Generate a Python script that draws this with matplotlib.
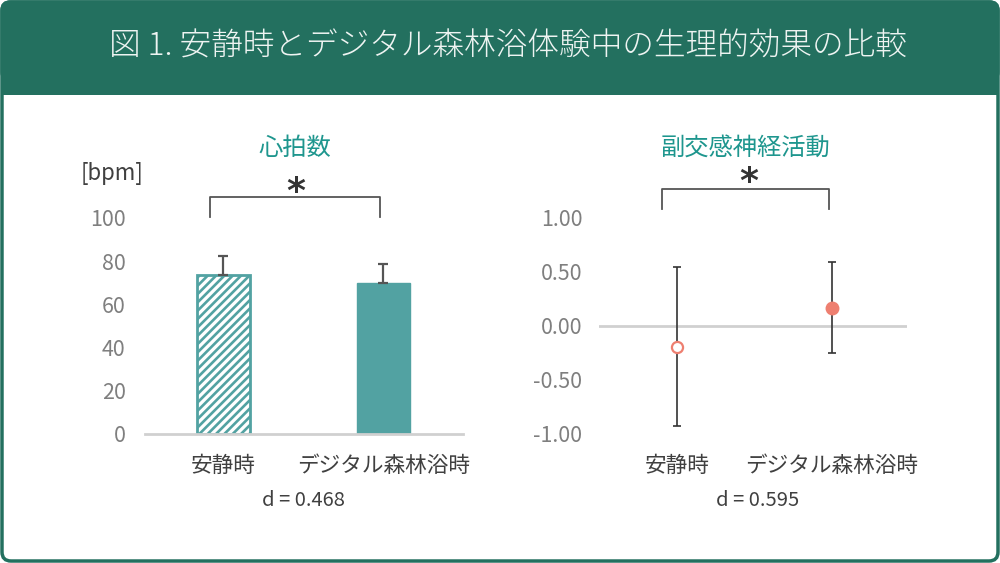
import matplotlib
matplotlib.use('Agg')
import matplotlib.pyplot as plt
from matplotlib.patches import FancyBboxPatch, Rectangle

plt.rcParams['font.family'] = ['Noto Sans CJK JP', 'DejaVu Sans']
plt.rcParams['axes.unicode_minus'] = False
plt.rcParams['hatch.linewidth'] = 1.9

# data
groups = ['安静時', 'デジタル森林浴時']
hr_mean = [73.6, 69.8]
hr_sd = [8.8, 8.8]
hr_ticks = [0, 20, 40, 60, 80, 100]
pns_mean = [-0.19, 0.17]
pns_sd = [0.74, 0.42]
pns_ticks = [-1.0, -0.5, 0.0, 0.5, 1.0]
d_hr = 0.468
d_pns = 0.595

GREEN = '#23705f'
TEAL = '#52a2a2'
TITLE_TEAL = '#1e968e'
SALMON = '#ee7f70'
GRAY_TXT = '#7f7f7f'
DARK = '#404040'

fig = plt.figure(figsize=(10, 5.63), dpi=100)

# background frame + header band, in pixel units
bg = fig.add_axes([0, 0, 1, 1])
bg.set_xlim(0, 1000)
bg.set_ylim(563, 0)
bg.axis('off')
bg.add_patch(FancyBboxPatch((2, 2), 996, 559, boxstyle='round,pad=0,rounding_size=9',
                            facecolor='white', edgecolor=GREEN, linewidth=2.5))
bg.add_patch(FancyBboxPatch((1, 1), 998, 80, boxstyle='round,pad=0,rounding_size=9',
                            facecolor=GREEN, edgecolor=GREEN, linewidth=1))
bg.add_patch(Rectangle((1, 40), 998, 55, facecolor=GREEN, edgecolor='none'))
bg.text(508, 47, '図 1. 安静時とデジタル森林浴体験中の生理的効果の比較', color='#eef4f2',
        fontsize=22.8, ha='center', va='center', fontweight='light')

# ---------------- heart rate ----------------
ax1 = fig.add_axes([0.145, 1 - 434 / 563, 0.318, 216 / 563])
x = [0, 1]
ax1.bar(x[0], hr_mean[0], width=0.33, color='white', edgecolor=TEAL, hatch='////', linewidth=2)
ax1.bar(x[1], hr_mean[1], width=0.33, color=TEAL, edgecolor=TEAL, linewidth=1)
ax1.errorbar(x, hr_mean, yerr=[[0, 0], hr_sd], fmt='none', ecolor='#555555',
             elinewidth=1.6, capsize=3.5, capthick=1.6)
ax1.set_xlim(-0.49, 1.497)
ax1.set_ylim(0, 100)
ax1.set_yticks(hr_ticks)
ax1.set_yticklabels([str(t) for t in hr_ticks], color=GRAY_TXT, fontsize=15.4)
ax1.set_xticks(x)
ax1.set_xticklabels(groups, color=DARK, fontsize=15.6)
ax1.tick_params(axis='y', length=0, pad=14)
ax1.tick_params(axis='x', length=0, pad=15)
for s in ['top', 'right', 'left']:
    ax1.spines[s].set_visible(False)
ax1.spines['bottom'].set_color('#d0d0d0')
ax1.spines['bottom'].set_linewidth(2)
ax1.plot([-0.084, -0.084, 0.978, 0.978], [100.5, 109.7, 109.7, 100.5],
         color='#555555', linewidth=1.3, clip_on=False)
ax1.text(0.45, 107.4, '*', fontsize=26, fontweight='bold', color='#333333',
         ha='center', va='baseline', family='DejaVu Sans')
ax1.text(0.47, 1.324, '心拍数', transform=ax1.transAxes, color=TITLE_TEAL,
         fontsize=17.5, ha='center', va='center')
ax1.text(-0.104, 1.208, '[bpm]', transform=ax1.transAxes, color=DARK,
         fontsize=16, ha='center', va='center')
ax1.text(0.497, -0.306, 'd = {:.3f}'.format(d_hr), transform=ax1.transAxes,
         color=DARK, fontsize=14.5, ha='center', va='center')

# ---------------- parasympathetic ----------------
ax2 = fig.add_axes([0.599, 1 - 434 / 563, 0.308, 216 / 563])
ax2.axhline(0, color='#d0d0d0', linewidth=2, zorder=1)
ax2.errorbar(x, pns_mean, yerr=pns_sd, fmt='none', ecolor='#333333',
             elinewidth=1.2, capsize=3, capthick=1.2, zorder=2)
ax2.plot(x[0], pns_mean[0], 'o', markersize=8, markerfacecolor='white',
         markeredgecolor=SALMON, markeredgewidth=1.6, zorder=3)
ax2.plot(x[1], pns_mean[1], 'o', markersize=9, color=SALMON, zorder=3)
ax2.set_xlim(-0.503, 1.484)
ax2.set_ylim(-1, 1)
ax2.set_yticks(pns_ticks)
ax2.set_yticklabels(['{:.2f}'.format(t) for t in pns_ticks], color=GRAY_TXT, fontsize=15.4)
ax2.set_xticks(x)
ax2.set_xticklabels(groups, color=DARK, fontsize=15.6)
ax2.tick_params(axis='y', length=0, pad=12)
ax2.tick_params(axis='x', length=0, pad=15)
for s in ['top', 'right', 'left', 'bottom']:
    ax2.spines[s].set_visible(False)
ax2.plot([-0.097, -0.097, 0.98, 0.98], [1.083, 1.27, 1.27, 1.083],
         color='#555555', linewidth=1.3, clip_on=False)
ax2.text(0.46, 1.24, '*', fontsize=26, fontweight='bold', color='#333333',
         ha='center', va='baseline', family='DejaVu Sans')
ax2.text(0.474, 1.324, '副交感神経活動', transform=ax2.transAxes, color=TITLE_TEAL,
         fontsize=17.5, ha='center', va='center')
ax2.text(0.516, -0.306, 'd = {:.3f}'.format(d_pns), transform=ax2.transAxes,
         color=DARK, fontsize=14.5, ha='center', va='center')

plt.savefig('out.png', dpi=100)
